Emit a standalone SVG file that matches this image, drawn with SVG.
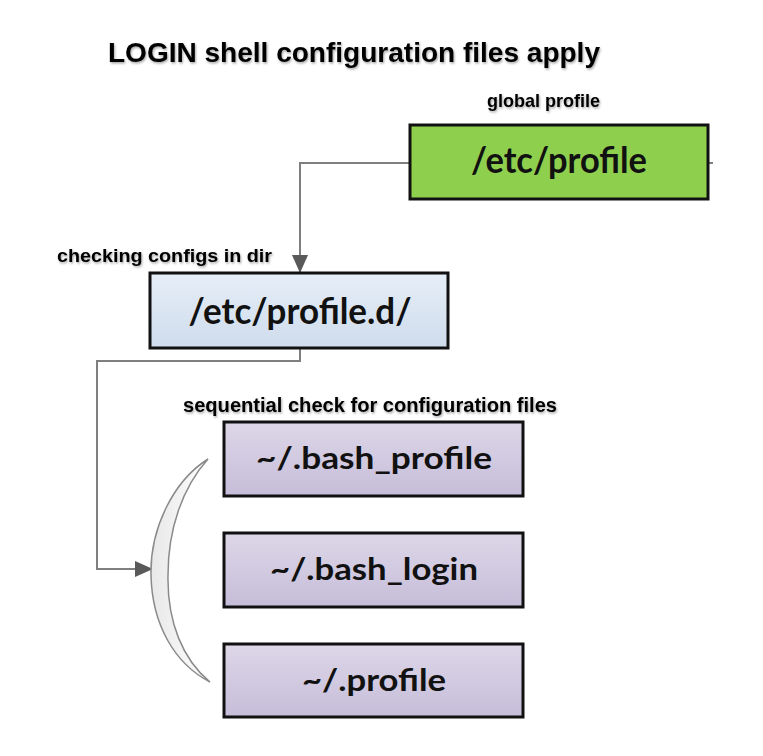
<svg xmlns="http://www.w3.org/2000/svg" width="763" height="756" viewBox="0 0 763 756">
<defs>
<style>
.lbl{font-family:"Liberation Sans",Arial,sans-serif;font-weight:bold;fill:#000}
.box{stroke:#111;stroke-width:3}
.bt{font-family:Lato,"Open Sans","Liberation Sans",sans-serif;font-weight:bold;fill:#111;text-anchor:middle}
.con{fill:none;stroke:#7f7f7f;stroke-width:2}
</style>
<filter id="sh" x="-5%" y="-30%" width="110%" height="160%">
<feDropShadow dx="1" dy="1.5" stdDeviation="1.2" flood-color="#000" flood-opacity="0.35"/>
</filter>
<linearGradient id="gBlue" x1="0" y1="0" x2="0" y2="1">
<stop offset="0" stop-color="#e6eef8"/><stop offset="1" stop-color="#cfdcec"/>
</linearGradient>
<linearGradient id="gPurp" x1="0" y1="0" x2="0" y2="1">
<stop offset="0" stop-color="#ddd7e8"/><stop offset="1" stop-color="#c6bdd9"/>
</linearGradient>
<linearGradient id="gMoon" x1="0" y1="0" x2="1" y2="0">
<stop offset="0" stop-color="#e8e8e8"/><stop offset="1" stop-color="#ffffff"/>
</linearGradient>
<marker id="arr" markerUnits="userSpaceOnUse" markerWidth="18" markerHeight="18" viewBox="0 0 18 18" refX="17" refY="9" orient="auto">
<path d="M0,1 L18,9 L0,17 Z" fill="#595959"/>
</marker>
</defs>
<rect width="763" height="756" fill="#fff"/>
<g filter="url(#sh)">
<text class="lbl" x="108" y="62" font-size="28" textLength="492" lengthAdjust="spacingAndGlyphs">LOGIN shell configuration files apply</text>
<text class="lbl" x="487" y="107" font-size="19" textLength="113" lengthAdjust="spacingAndGlyphs">global profile</text>
<text class="lbl" x="57" y="262" font-size="19" textLength="215" lengthAdjust="spacingAndGlyphs">checking configs in dir</text>
<text class="lbl" x="183" y="412" font-size="19.5" textLength="374" lengthAdjust="spacingAndGlyphs">sequential check for configuration files</text>
</g>
<g id="connectors">
<path class="con" d="M410,163 H300 V272" marker-end="url(#arr)"/>
<path class="con" d="M708,163 H713"/>
<path class="con" d="M300,348 V361 H97 V569 H152" marker-end="url(#arr)"/>
</g>
<g id="bracket">
<path d="M208,459 C172,482 150,530 151,575 C152,625 175,664 210,682 C183,660 167,622 168,575 C168,530 182,488 208,459 Z" fill="url(#gMoon)" stroke="#8a8a8a" stroke-width="1.5"/>
</g>
<g id="etc-profile">
<rect class="box" x="410" y="125" width="298" height="74" fill="#8fcf4e"/>
<text class="bt" x="559" y="173" font-size="36" textLength="176" lengthAdjust="spacingAndGlyphs">/etc/profile</text>
</g>
<g id="etc-profile-d">
<rect class="box" x="150" y="273" width="298" height="75" fill="url(#gBlue)"/>
<text class="bt" x="300" y="324" font-size="36" textLength="223" lengthAdjust="spacingAndGlyphs">/etc/profile.d/</text>
</g>
<g id="bash-profile">
<rect class="box" x="224" y="422" width="299" height="74" fill="url(#gPurp)"/>
<text class="bt" x="374" y="469" font-size="30" textLength="236" lengthAdjust="spacingAndGlyphs">~/.bash_profile</text>
</g>
<g id="bash-login">
<rect class="box" x="224" y="533" width="299" height="74" fill="url(#gPurp)"/>
<text class="bt" x="374" y="580" font-size="30" textLength="208" lengthAdjust="spacingAndGlyphs">~/.bash_login</text>
</g>
<g id="profile">
<rect class="box" x="224" y="644" width="299" height="73" fill="url(#gPurp)"/>
<text class="bt" x="374" y="691" font-size="30" textLength="144" lengthAdjust="spacingAndGlyphs">~/.profile</text>
</g>
</svg>
